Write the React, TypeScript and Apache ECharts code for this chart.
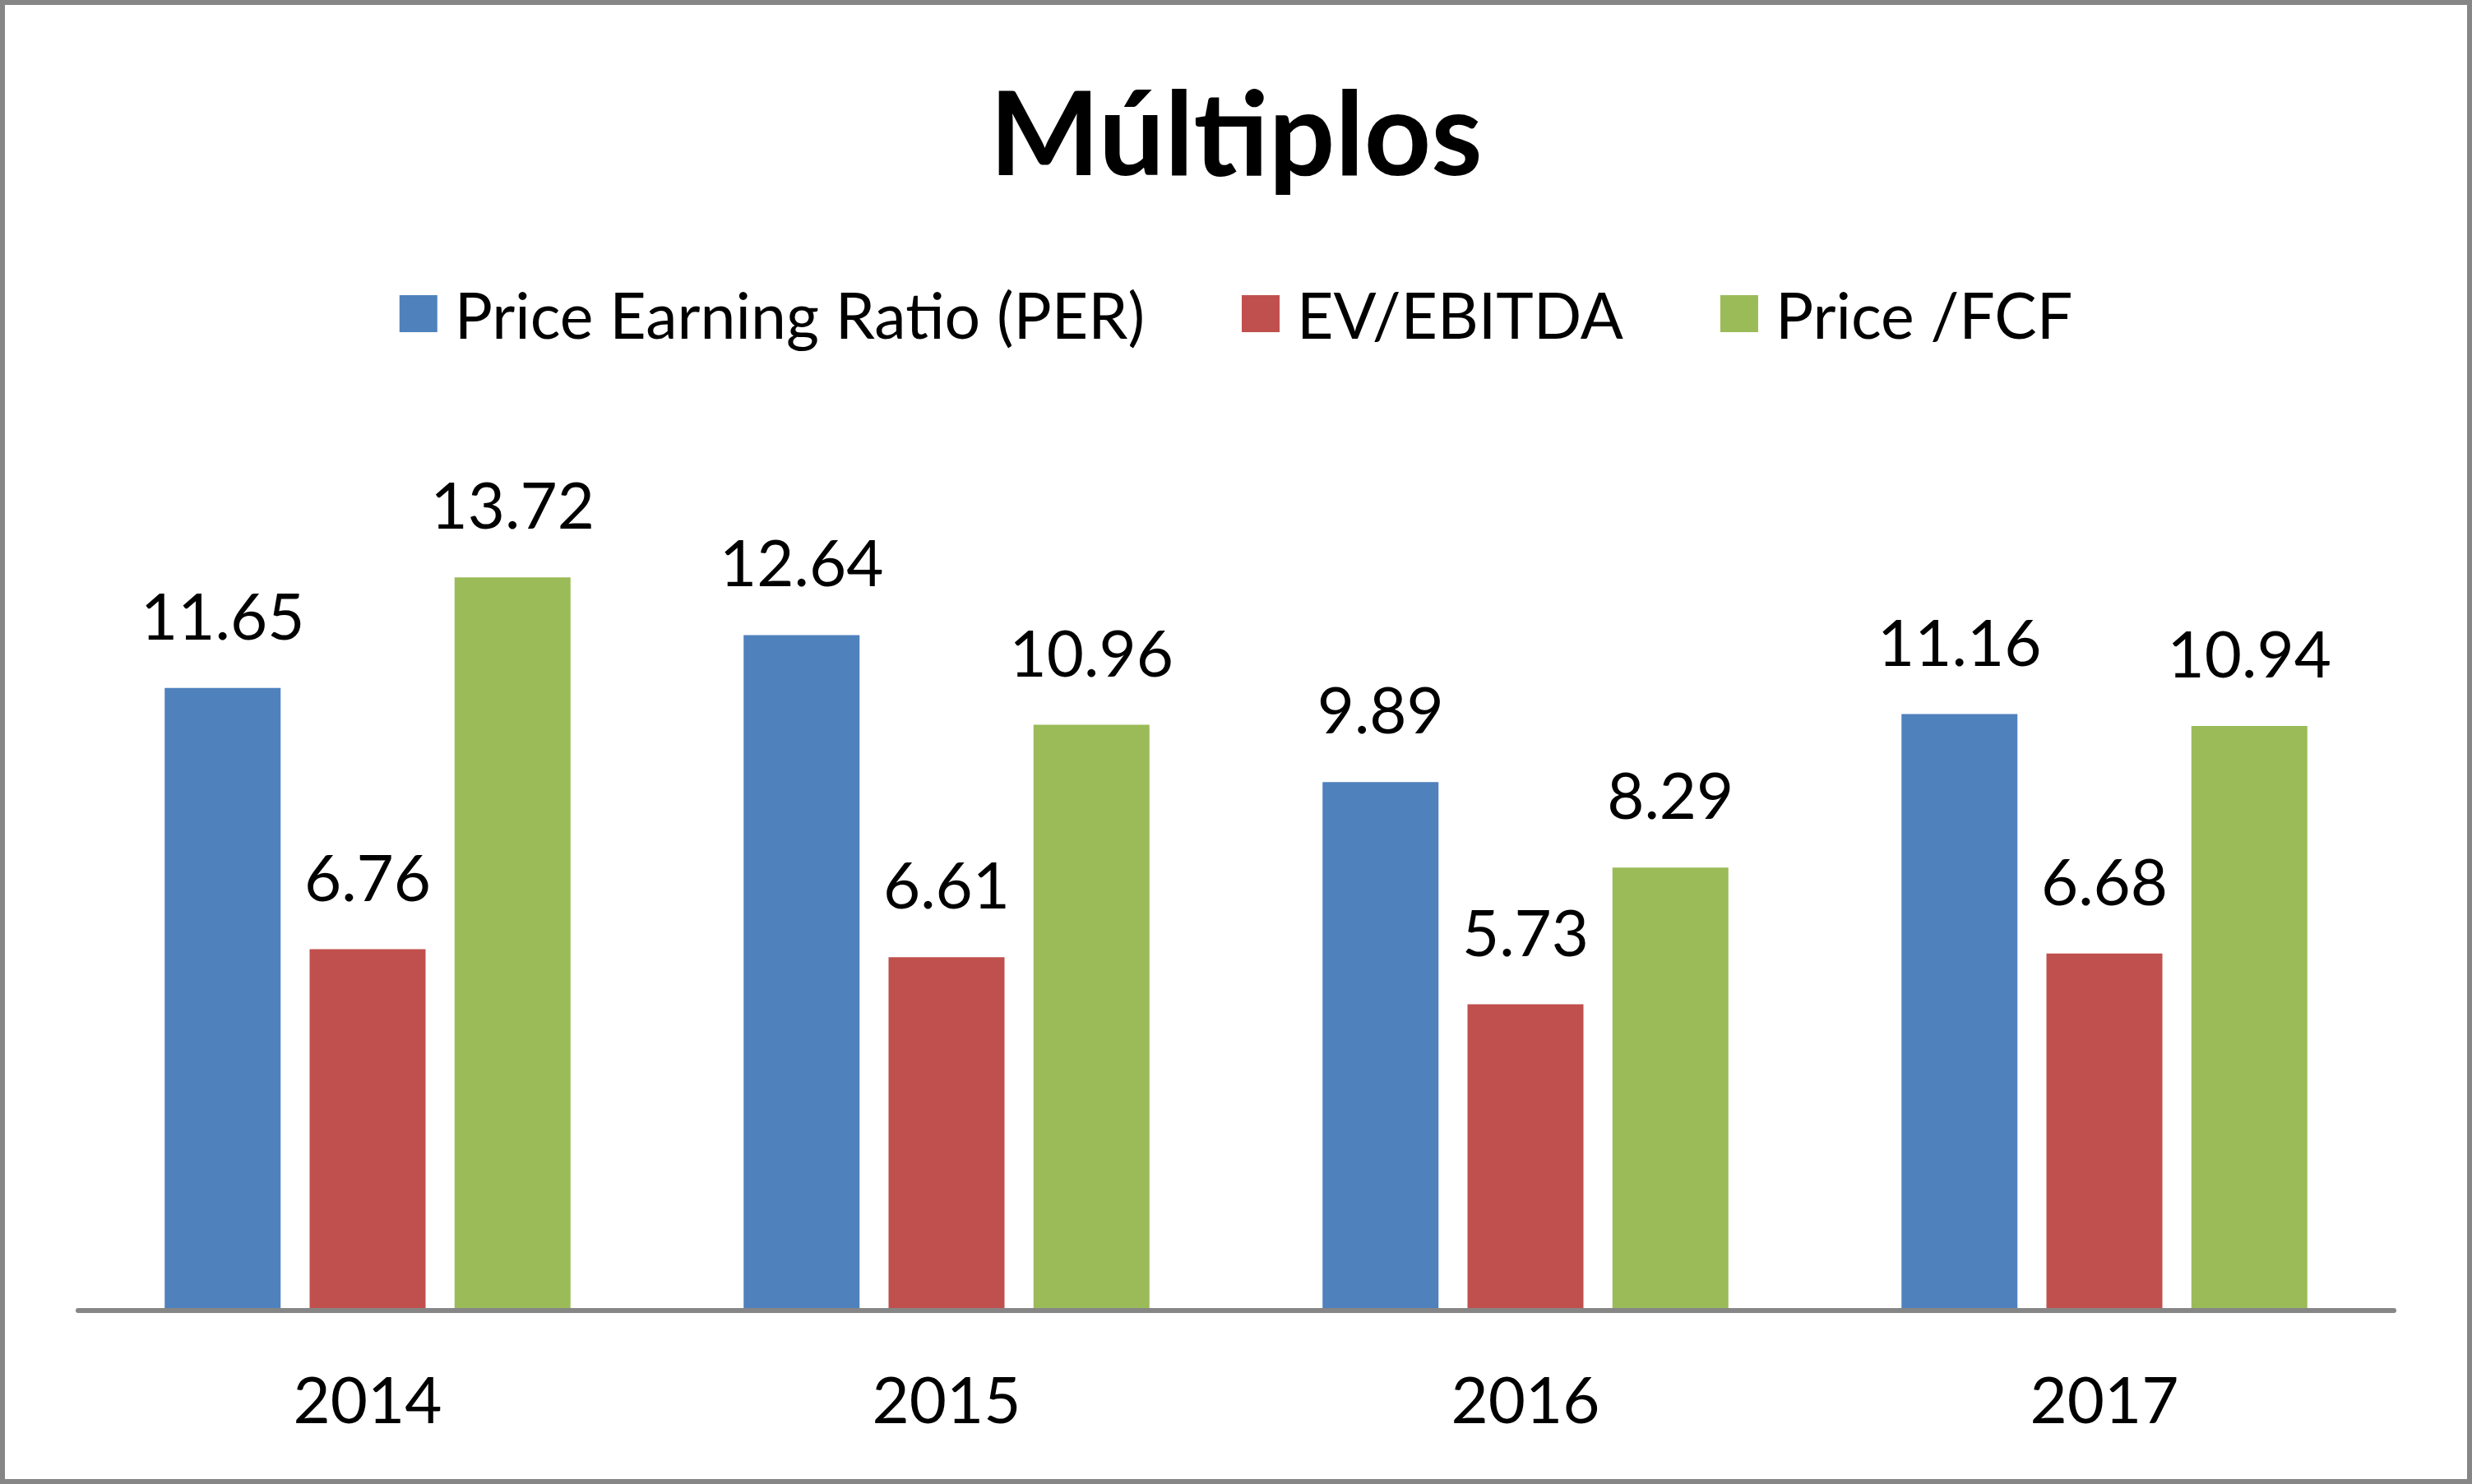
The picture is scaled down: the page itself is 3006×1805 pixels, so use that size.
import React, { useEffect, useRef } from "react";
import * as echarts from "echarts";

const categories = ["2014", "2015", "2016", "2017"];
const seriesNames = ["Price Earning Ratio (PER)", "EV/EBITDA", "Price /FCF"];
const perValues = [11.65, 12.64, 9.89, 11.16];
const evEbitdaValues = [6.76, 6.61, 5.73, 6.68];
const priceFcfValues = [13.72, 10.96, 8.29, 10.94];
const colors = ["#4F81BD", "#C0504D", "#9BBB59"];
const titleText = "Múltiplos";

const FONT = "Lato";

export default function App() {
  const ref = useRef<HTMLDivElement>(null);
  useEffect(() => {
    document.body.style.margin = "0";
    if (!ref.current) return;
    const chart = echarts.init(ref.current, null, { renderer: "svg" });
    const allValues = [perValues, evEbitdaValues, priceFcfValues];
    chart.setOption({
      animation: false,
      backgroundColor: "#ffffff",
      title: {
        text: titleText,
        left: "center",
        top: 82,
        textStyle: { fontFamily: FONT, fontWeight: "bold", fontSize: 142, color: "#000" },
      },
      legend: {
        top: 338,
        left: "center",
        itemWidth: 46,
        itemHeight: 45,
        itemGap: 118,
        icon: "rect",
        data: seriesNames,
        textStyle: { fontFamily: FONT, fontSize: 77, color: "#000", padding: [0, 0, 0, 16] },
      },
      grid: { left: 95, right: 95, top: 554, bottom: 211, containLabel: false },
      xAxis: {
        type: "category",
        data: categories,
        z: 3,
        axisLine: { lineStyle: { color: "#868686", width: 6 } },
        axisTick: { show: false },
        axisLabel: { fontFamily: FONT, fontSize: 78, color: "#000", margin: 68 },
      },
      yAxis: {
        type: "value",
        min: 0,
        max: 16,
        interval: 2,
        show: false,
        splitLine: { show: false },
      },
      graphic: [
        {
          type: "rect",
          shape: { x: 3, y: 3, width: 3000, height: 1799 },
          style: { fill: "none", stroke: "#868686", lineWidth: 6 },
          z: 10,
        },
      ],
      series: seriesNames.map((name, i) => ({
        name,
        type: "bar",
        data: allValues[i],
        barWidth: 141,
        barGap: "25%",
        itemStyle: { color: colors[i] },
        label: {
          show: true,
          position: "top",
          distance: 50,
          fontFamily: FONT,
          fontSize: 78,
          color: "#000",
          formatter: (p: any) => p.value.toFixed(2),
        },
      })),
    });
    return () => chart.dispose();
  }, []);
  return <div ref={ref} style={{ width: 3006, height: 1805 }} />;
}
